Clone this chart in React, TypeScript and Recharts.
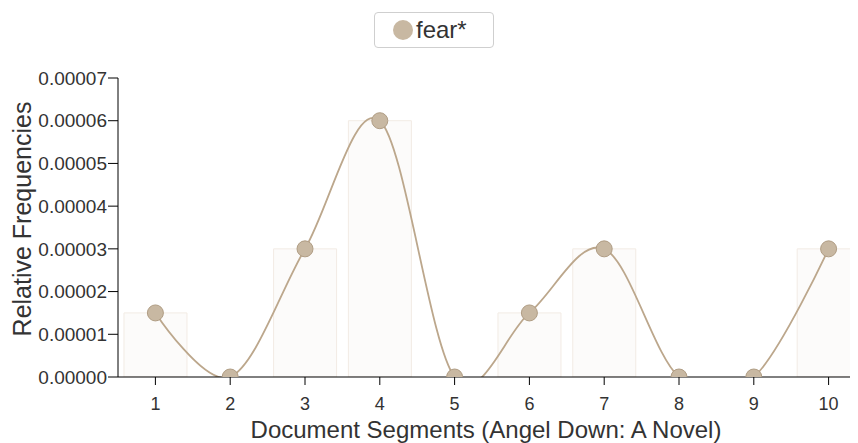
import React from 'react';
import { ComposedChart, Bar, Line, XAxis, YAxis } from 'recharts';

// segment labels and relative frequencies of "fear*"
const segments = ['1', '2', '3', '4', '5', '6', '7', '8', '9', '10'];
const fearValues = [0.000015, 0, 0.00003, 0.00006, 0, 0.000015, 0.00003, 0, 0, 0.00003];
const yTicks = [0, 0.00001, 0.00002, 0.00003, 0.00004, 0.00005, 0.00006, 0.00007];

const data = segments.map((s, i) => ({ segment: s, fear: fearValues[i] }));

const FONT = '"Liberation Sans", Arial, sans-serif';
const LINE = '#bca78c';
const TEXT = '#333';

// cardinal (catmull-rom) spline, same endpoint handling as d3.curveCardinal
const cardinal = (context: any) => {
  let pts: number[][] = [];
  const k = 1 / 6;
  return {
    areaStart() {},
    areaEnd() {},
    lineStart() {
      pts = [];
    },
    point(x: number, y: number) {
      pts.push([+x, +y]);
    },
    lineEnd() {
      if (!pts.length) return;
      context.moveTo(pts[0][0], pts[0][1]);
      for (let i = 0; i < pts.length - 1; i++) {
        const p1 = pts[i];
        const p2 = pts[i + 1];
        const p0 = i === 0 ? p2 : pts[i - 1];
        const p3 = i + 2 < pts.length ? pts[i + 2] : p1;
        const c1 = i === 0 ? p1 : [p1[0] + k * (p2[0] - p0[0]), p1[1] + k * (p2[1] - p0[1])];
        const c2 = i + 2 < pts.length ? [p2[0] - k * (p3[0] - p1[0]), p2[1] - k * (p3[1] - p1[1])] : p2;
        context.bezierCurveTo(c1[0], c1[1], c2[0], c2[1], p2[0], p2[1]);
      }
    },
  };
};

export default function App() {
  return (
    // chart is wider than the window; the plot runs off the right edge like the original
    <div style={{ position: 'relative', width: 850, height: 435, overflow: 'hidden', fontFamily: FONT }}>
      {/* legend box */}
      <div
        style={{
          position: 'absolute',
          left: 366,
          top: 4,
          width: 120,
          height: 36,
          border: '1px solid #cfcfcf',
          borderRadius: 4,
          display: 'flex',
          alignItems: 'center',
          boxSizing: 'border-box',
          paddingLeft: 18,
          fontSize: 24,
          color: TEXT,
          zIndex: 2,
        }}>
        <span
          style={{
            display: 'inline-block',
            width: 20,
            height: 20,
            borderRadius: '50%',
            background: '#c8b8a2',
            marginRight: 3,
          }}
        />
        fear*
      </div>
      <ComposedChart
        width={858}
        height={435}
        data={data}
        margin={{ top: 70, right: 0, bottom: 0, left: 0 }}
        barCategoryGap='8%'>
        <XAxis
          dataKey='segment'
          height={66}
          tickSize={8}
          tickMargin={12}
          stroke='#000'
          tick={{ fill: TEXT, fontSize: 18, fontFamily: FONT }}
          label={() => (
            <text x={478} y={430} textAnchor='middle' fill={TEXT} fontSize={24} fontFamily={FONT}>
              Document Segments (Angel Down: A Novel)
            </text>
          )}
        />
        <YAxis
          width={110}
          domain={[0, 0.00007]}
          ticks={yTicks}
          allowDataOverflow
          tickSize={10}
          tickMargin={1}
          stroke='#000'
          tickFormatter={(v: number) => v.toFixed(5)}
          tick={{ fill: TEXT, fontSize: 19, fontFamily: FONT }}
          label={() => (
            <text
              x={14}
              y={211}
              transform='rotate(-90 14 211)'
              textAnchor='middle'
              dominantBaseline='central'
              fill={TEXT}
              fontSize={25}
              fontFamily={FONT}>
              Relative Frequencies
            </text>
          )}
        />
        <Bar dataKey='fear' fill='#fcfbfa' stroke='#f2ebe4' isAnimationActive={false} />
        <Line
          dataKey='fear'
          type={cardinal as any}
          stroke={LINE}
          strokeWidth={1.8}
          dot={{ r: 8, fill: '#c8b8a2', stroke: '#b09d84', strokeWidth: 1, fillOpacity: 1 }}
          activeDot={false}
          isAnimationActive={false}
        />
      </ComposedChart>
    </div>
  );
}
